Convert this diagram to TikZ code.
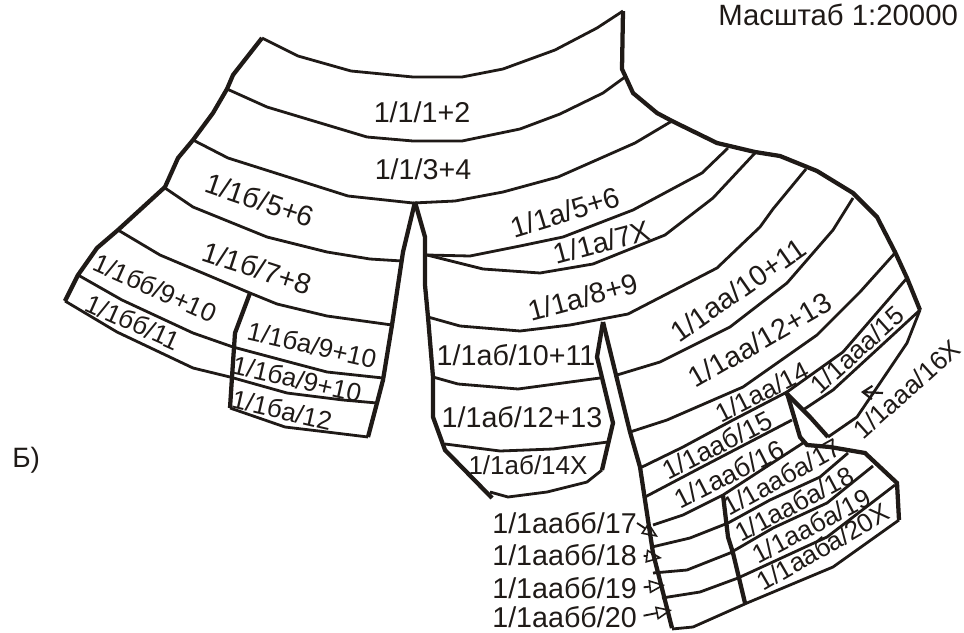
\documentclass[tikz,border=0pt]{standalone}
\usepackage{fontspec}
\setmainfont{Liberation Sans}
\usetikzlibrary{arrows.meta}
\definecolor{ink}{RGB}{31,26,23}
\begin{document}
\begin{tikzpicture}[
  x=0.75pt, y=-0.75pt,
  seam/.style={draw=ink, line width=2.1pt},
  rim/.style={draw=ink, line width=3.2pt},
  tag/.style={text=ink, inner sep=0pt, font=\fontsize{21.5}{21.5}\selectfont},
  midtag/.style={tag, font=\fontsize{20}{20}\selectfont},
  smalltag/.style={tag, font=\fontsize{19.5}{19.5}\selectfont},
  lead/.style={draw=ink, line width=1.4pt, shorten <=5, -{Triangle[open,length=12pt,width=10pt,line width=1.2pt]}}
]
\useasboundingbox (0,0) rectangle (964,632);

% Upper blocks
\draw[rim] (623,11) -- (622,69) -- (633,93) -- (657,113) -- (672,121) -- (717,143) -- (755,152) -- (780,156) -- (817,171) -- (853,193) -- (877,217) -- (895,252) -- (907,278) -- (920,310);
\draw[seam] (262,38) -- (298,56) -- (351,71) -- (413,77) -- (462,77) -- (503,69) -- (555,50) -- (597,28) -- (623,11);
\draw[seam] (227,89) -- (267,107) -- (367,137) -- (413,141) -- (462,141) -- (520,129) -- (560,114) -- (603,93) -- (625,77);
\draw[seam] (193,140) -- (228,158) -- (348,196) -- (413,203) -- (455,201) -- (503,192) -- (558,177) -- (635,143) -- (672,121);
\draw[rim] (262,38) -- (233,75) -- (227,89) -- (213,113) -- (193,140) -- (178,158) -- (165,187) -- (118,230) -- (97,248) -- (78,275) -- (65,301);

% Left branch
\draw[seam] (165,188) -- (193,207) -- (267,237) -- (327,252) -- (370,259) -- (402,261);
\draw[seam] (118,230) -- (160,255) -- (250,293) -- (277,304) -- (327,316) -- (392,325);
\draw[seam] (78,275) -- (122,300) -- (193,333) -- (233,347) -- (293,363) -- (327,372) -- (383,378);
\draw[seam] (65,301) -- (117,332) -- (193,368) -- (230,377) -- (287,393) -- (343,400) -- (377,403);
\draw[seam] (230,408) -- (285,427) -- (327,432) -- (368,437);
\draw[rim] (250,293) -- (235,333) -- (232,377) -- (230,408);
\draw[rim] (415,202) -- (403,252) -- (392,325) -- (383,380) -- (377,403) -- (368,437);

% Middle branch
\draw[rim] (415,202) -- (425,237) -- (425,285) -- (428,317) -- (433,377) -- (433,417) -- (445,450) -- (492,498);
\draw[seam] (427,255) -- (470,256) -- (520,246) -- (563,237) -- (633,210) -- (702,173) -- (728,148);
\draw[seam] (427,255) -- (483,269) -- (540,273) -- (593,264) -- (665,235) -- (713,198) -- (755,153);
\draw[seam] (428,317) -- (460,326) -- (520,331) -- (570,325) -- (628,314) -- (717,268) -- (760,227) -- (773,209) -- (806,169);
\draw[seam] (433,377) -- (458,384) -- (518,389) -- (600,378);
\draw[seam] (445,444) -- (500,451) -- (553,449) -- (608,442);
\draw[seam] (490,492) -- (508,497) -- (547,492) -- (587,482) -- (602,470);
\draw[rim] (603,322) -- (597,357) -- (613,423) -- (602,470);

% Right branch
\draw[rim] (603,322) -- (630,432) -- (640,467) -- (653,553) -- (672,628);
\draw[seam] (617,375) -- (660,362) -- (730,327) -- (787,283) -- (833,230) -- (853,198);
\draw[seam] (630,432) -- (667,420) -- (743,387) -- (817,335) -- (860,292) -- (895,253);
\draw[seam] (640,468) -- (683,447) -- (733,420) -- (787,392) -- (843,352) -- (907,278);
\draw[seam] (803,410) -- (833,390) -- (920,310);
\draw[seam] (920,310) -- (907,343) -- (880,383) -- (857,417) -- (828,437);
\draw[rim] (785,392) -- (810,417) -- (828,437);
\draw[seam] (645,497) -- (700,468) -- (792,420);
\draw[seam] (653,525) -- (683,515) -- (723,495) -- (803,443);
\draw[rim] (787,393) -- (800,437) -- (807,445) -- (830,447) -- (865,453) -- (897,483) -- (899,520);
\draw[seam] (652,547) -- (690,538) -- (728,523) -- (770,500) -- (820,477) -- (848,453);
\draw[seam] (653,573) -- (687,570) -- (730,553) -- (773,528) -- (827,503) -- (873,466);
\draw[seam] (662,598) -- (700,592) -- (738,578) -- (827,537) -- (895,485);
\draw[seam] (672,629) -- (693,627) -- (747,603) -- (833,567) -- (899,520);
\draw[rim] (723,495) -- (728,537) -- (733,553) -- (745,603);

% Block labels
\node[tag] (top12) at (422,112) {1/1/1+2};
\node[tag] (top34) at (423,169) {1/1/3+4};
\node[tag,rotate=-19] (lb56) at (260,200) {1/1б/5+6};
\node[tag,rotate=-18] (lb78) at (257,268) {1/1б/7+8};
\node[smalltag,rotate=-24] (lbb910) at (155,288) {1/1бб/9+10};
\node[smalltag,rotate=-24] (lbb11) at (133,322) {1/1бб/11};
\node[smalltag,rotate=-13] (lba910a) at (312,345) {1/1бa/9+10};
\node[smalltag,rotate=-13] (lba910b) at (297,379) {1/1бa/9+10};
\node[smalltag,rotate=-13] (lba12) at (282,410) {1/1бa/12};
\node[tag,rotate=17] (ma56) at (565,212) {1/1а/5+6};
\node[tag,rotate=15] (ma7) at (602,242) {1/1а/7X};
\node[tag,rotate=15] (ma89) at (583,297) {1/1а/8+9};
\node[tag] (mab1011) at (516,355) {1/1аб/10+11};
\node[tag] (mab1213) at (522,417) {1/1аб/12+13};
\node[smalltag] (mab14) at (528,465) {1/1аб/14X};
\node[tag,rotate=35] (raa1011) at (738,290) {1/1аа/10+11};
\node[tag,rotate=30] (raa1213) at (760,340) {1/1аа/12+13};
\node[smalltag,rotate=27] (raa14) at (762,392) {1/1аа/14};
\node[smalltag,rotate=42] (raaa15) at (857,350) {1/1ааа/15};
\node[smalltag,rotate=42] (raaa16) at (907,389) {1/1ааа/16X};
\node[midtag,rotate=27] (raab15) at (717,445) {1/1ааб/15};
\node[midtag,rotate=27] (raab16) at (729,474) {1/1ааб/16};
\node[smalltag,rotate=29] (raaba17) at (782,477) {1/1ааба/17};
\node[smalltag,rotate=28] (raaba18) at (794,504) {1/1ааба/18};
\node[smalltag,rotate=28] (raaba19) at (811,526) {1/1ааба/19};
\node[smalltag,rotate=30] (raaba20) at (823,547) {1/1ааба/20X};

% Side labels and their arrows
\node[tag,anchor=east] (lab17) at (637,523) {1/1аабб/17};
\node[tag,anchor=east] (lab18) at (637,555) {1/1аабб/18};
\node[tag,anchor=east] (lab19) at (637,588) {1/1аабб/19};
\node[tag,anchor=east] (lab20) at (637,617) {1/1аабб/20};
\coordinate (tip17) at (658,537);
\coordinate (tip18) at (662,558);
\coordinate (tip19) at (665,585);
\coordinate (tip20) at (672,610);
\draw[lead,shorten <=0] (lab17.east) -- (tip17);
\draw[lead] (lab18.east) -- (tip18);
\draw[lead] (lab19.east) -- (tip19);
\draw[lead] (lab20.east) -- (tip20);
\coordinate (tail16) at (883,393);
\coordinate (tip16) at (861,392);
\draw[draw=ink,line width=1.6pt,-{Straight Barb[length=7pt,width=10pt]}] (tail16) -- (tip16);

% Free texts
\node[anchor=base west,inner sep=0pt,text=ink,font=\fontsize{22}{22}\selectfont] (scale) at (718,25) {Масштаб 1:20000};
\node[anchor=base west,inner sep=0pt,text=ink,font=\fontsize{21}{21}\selectfont] (part) at (12,467) {Б)};
\end{tikzpicture}
\end{document}
